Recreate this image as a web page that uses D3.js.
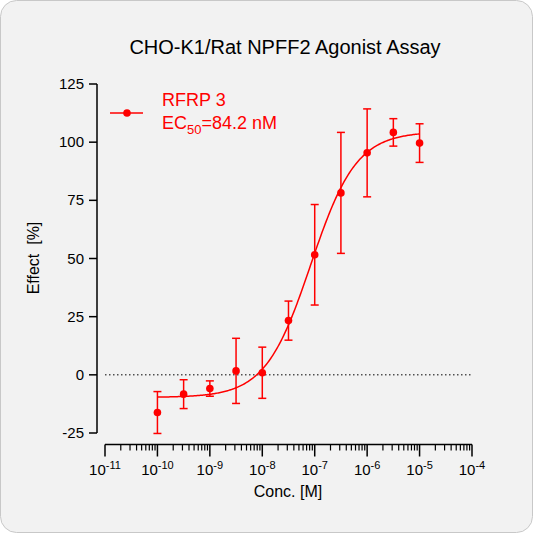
<!DOCTYPE html>
<html><head><meta charset="utf-8">
<script src="https://cdn.jsdelivr.net/npm/d3@7"></script>
<style>body{margin:0;background:#fff}svg{display:block}</style></head>
<body><svg id="c" width="533" height="533"></svg>
<script>
const concentrations=[1e-10,3.16e-10,1e-9,3.16e-9,1e-8,3.16e-8,1e-7,3.16e-7,1e-6,3.16e-6,1e-5];
const effects=[-16.2,-8.3,-5.9,1.7,0.9,23.3,51.6,78.2,95.4,104.2,99.6];
const errors=[9,6.2,3.3,14,11,8.4,21.6,26,18.9,5.9,8.3];
const yTicks=[-25,0,25,50,75,100,125];
const xDecades=[-11,-10,-9,-8,-7,-6,-5,-4];
const fitBottom=-9.7, fitTop=104.5, fitEC50=84.2e-9, fitHill=1.0;
const red="#ff0000";
const font="Liberation Sans, Arial, sans-serif";
const svg=d3.select("#c");
svg.append("rect").attr("x",0.5).attr("y",0.5).attr("width",532).attr("height",532).attr("rx",16)
  .attr("fill","#f2f2f2").attr("stroke","#c8c8c8");
const x=d3.scaleLog().domain([1e-11,1e-4]).range([105,472]);
const y=d3.scaleLinear().domain([-25,125]).range([433,84]);

svg.append("text").attr("x",285).attr("y",54).attr("text-anchor","middle")
  .attr("font-family",font).attr("font-size",20).text("CHO-K1/Rat NPFF2 Agonist Assay");

// Y axis
const ya=svg.append("g");
ya.append("line").attr("x1",97).attr("x2",97).attr("y1",y(125)).attr("y2",y(-25)).attr("stroke","#000").attr("stroke-width",1.5);
yTicks.forEach(t=>{
  ya.append("line").attr("x1",89).attr("x2",97).attr("y1",y(t)).attr("y2",y(t)).attr("stroke","#000").attr("stroke-width",1.5);
  ya.append("text").attr("x",84).attr("y",y(t)+5).attr("text-anchor","end").attr("font-family",font).attr("font-size",15).text(t);
});
svg.append("text").attr("transform","translate(39,258) rotate(-90)").attr("text-anchor","middle")
  .attr("font-family",font).attr("font-size",16).attr("xml:space","preserve").text("Effect  [%]");

// X axis
const ay=444.5;
const xa=svg.append("g");
xa.append("line").attr("x1",x(1e-11)).attr("x2",x(1e-4)).attr("y1",ay).attr("y2",ay).attr("stroke","#000").attr("stroke-width",1.5);
xDecades.forEach((d,i)=>{
  const v=Math.pow(10,d);
  xa.append("line").attr("x1",x(v)).attr("x2",x(v)).attr("y1",ay).attr("y2",ay+12).attr("stroke","#000").attr("stroke-width",1.5);
  const t=xa.append("text").attr("x",x(v)).attr("y",475).attr("text-anchor","middle").attr("font-family",font).attr("font-size",15);
  t.append("tspan").text("10");
  t.append("tspan").attr("dy",-6).attr("font-size",11).text(String(d).replace("-","-"));
  if(i<xDecades.length-1){
    for(let m=2;m<=9;m++){
      const mv=m*v;
      xa.append("line").attr("x1",x(mv)).attr("x2",x(mv)).attr("y1",ay).attr("y2",ay+6).attr("stroke","#000").attr("stroke-width",1.2);
    }
  }
});
svg.append("text").attr("x",288).attr("y",497).attr("text-anchor","middle").attr("font-family",font).attr("font-size",16).text("Conc. [M]");

// zero dotted line
svg.append("line").attr("x1",x(1e-11)).attr("x2",x(1e-4)).attr("y1",y(0)).attr("y2",y(0))
  .attr("stroke","#000").attr("stroke-width",1).attr("stroke-dasharray","1.5,2.5");

// fit curve
const fitX=d3.range(-10,-5+0.001,0.02).map(l=>Math.pow(10,l));
const fit=c=>fitBottom+(fitTop-fitBottom)/(1+Math.pow(fitEC50/c,fitHill));
svg.append("path").datum(fitX).attr("fill","none").attr("stroke",red).attr("stroke-width",1.5)
  .attr("d",d3.line().x(c=>x(c)).y(c=>y(fit(c))));

// error bars and points
const g=svg.append("g").attr("stroke",red).attr("stroke-width",1.5);
concentrations.forEach((c,i)=>{
  const cx=x(c), e=errors[i], v=effects[i];
  g.append("line").attr("x1",cx).attr("x2",cx).attr("y1",y(v+e)).attr("y2",y(v-e));
  [v+e,v-e].forEach(w=>g.append("line").attr("x1",cx-4).attr("x2",cx+4).attr("y1",y(w)).attr("y2",y(w)));
  svg.append("circle").attr("cx",cx).attr("cy",y(v)).attr("r",3.8).attr("fill",red);
});

// legend
svg.append("line").attr("x1",110).attr("x2",143).attr("y1",113).attr("y2",113).attr("stroke",red).attr("stroke-width",1.5);
svg.append("circle").attr("cx",127).attr("cy",113).attr("r",3.8).attr("fill",red);
svg.append("text").attr("x",162).attr("y",106).attr("font-family",font).attr("font-size",18).attr("fill",red).text("RFRP 3");
const lt=svg.append("text").attr("x",162).attr("y",129).attr("font-family",font).attr("font-size",18).attr("fill",red);
lt.append("tspan").text("EC");
lt.append("tspan").attr("dy",5).attr("font-size",13).text("50");
lt.append("tspan").attr("dy",-5).text("=84.2 nM");
</script></body></html>
